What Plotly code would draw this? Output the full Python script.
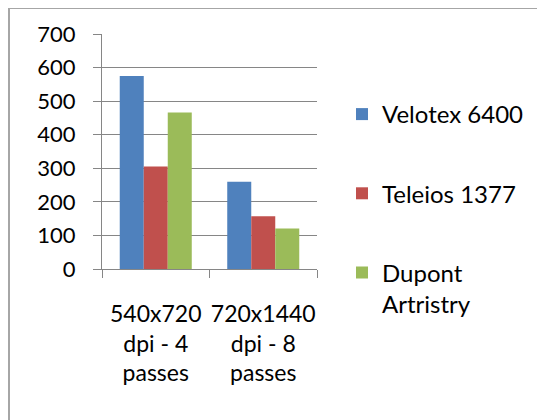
import plotly.graph_objects as go

categories = ["540x720<br>dpi - 4<br>passes", "720x1440<br>dpi - 8<br>passes"]
series_names = ["Velotex 6400", "Teleios 1377", "Dupont<br>Artristry"]
velotex = [575, 260]
teleios = [305, 157]
dupont = [466, 121]
colors = ["#4F81BD", "#C0504D", "#9BBB59"]
y_ticks = [0, 100, 200, 300, 400, 500, 600, 700]

FONT = "Lato"
fig = go.Figure()
for i, (name, vals) in enumerate(zip(series_names, [velotex, teleios, dupont])):
    fig.add_trace(go.Bar(x=categories, y=vals, name=name, marker_color=colors[i],
                         marker_line_width=0, legendgroup=f"g{i}"))

# page has an 8px body margin; figure coordinates are offset by it
OFF = 8
W, H = 545 - OFF, 420 - OFF
L, T = 102 - OFF, 34 - OFF
pw, ph = 215, 235
R = W - L - pw
B = H - T - ph

def px_x(p):  # page pixel -> paper
    return (p - OFF - L) / pw

def px_y(p):
    return (H - B - (p - OFF)) / ph

grid = "#868686"
fig.update_layout(
    width=W, height=H,
    margin=dict(l=L, r=R, t=T, b=B, autoexpand=False),
    paper_bgcolor="white", plot_bgcolor="white",
    barmode="group", bargap=0.33, bargroupgap=0,
    font=dict(family=FONT, size=22, color="#000000"),
    xaxis=dict(type="category", showline=True, linecolor=grid, linewidth=1,
               ticks="outside", tickson="boundaries", ticklen=8, tickcolor=grid,
               showgrid=False, ticklabelstandoff=24, tickangle=0, automargin=False,
               tickfont=dict(size=23)),
    yaxis=dict(range=[0, 700], tickvals=y_ticks, showline=True, linecolor=grid,
               linewidth=1, ticks="outside", ticklen=8, tickcolor=grid,
               showgrid=True, gridcolor=grid, gridwidth=1, zeroline=False,
               ticklabelstandoff=13, automargin=False, tickfont=dict(size=22)),
    legend=dict(x=px_x(342), xanchor="left", y=px_y(92), yanchor="top",
                tracegroupgap=45, valign="top", font=dict(size=24),
                bgcolor="rgba(0,0,0,0)"),
    showlegend=True,
    shapes=[
        dict(type="line", xref="paper", yref="paper", x0=px_x(9), x1=px_x(9),
             y0=px_y(7), y1=px_y(430), line=dict(color="#A6A6A6", width=2)),
        dict(type="line", xref="paper", yref="paper", x0=px_x(8), x1=px_x(560),
             y0=px_y(8), y1=px_y(8), line=dict(color="#A6A6A6", width=2)),
    ],
)
fig.write_html("out.html")
